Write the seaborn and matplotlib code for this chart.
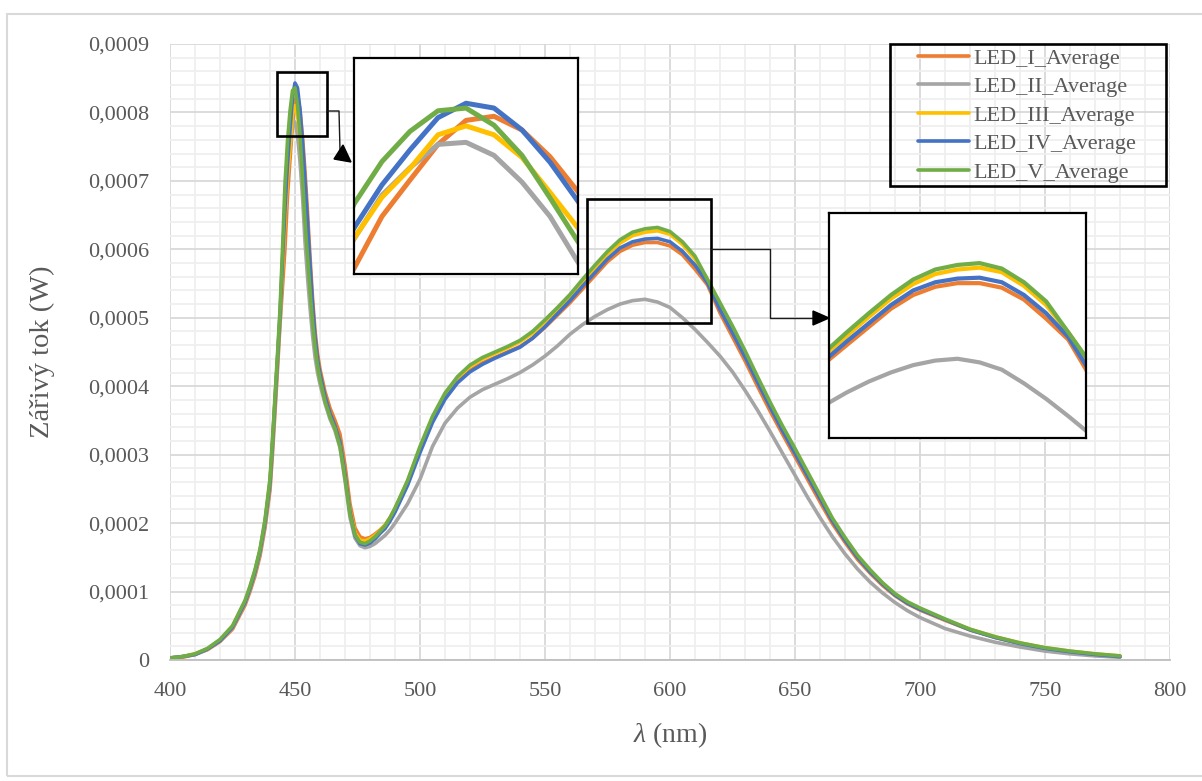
import numpy as np
import pandas as pd
import matplotlib
matplotlib.use("Agg")
import matplotlib.pyplot as plt
import seaborn as sns
from matplotlib.ticker import MultipleLocator, FuncFormatter
from matplotlib.patches import Rectangle, Polygon
from matplotlib.lines import Line2D

# ---------------- data (radiant flux in microwatts) ----------------
wavelength = [400, 405, 410, 415, 420, 425, 430, 432, 434, 436, 438,
              440, 441, 442, 443, 444, 445, 446, 447, 448, 449, 450, 451, 452, 453, 454,
              455, 456, 457, 458, 459, 460,
              462, 464, 466, 468, 470, 472, 474, 476, 478, 480, 482, 484, 486, 488, 490,
              495, 500, 505, 510, 515, 520, 525, 530, 535, 540, 545, 550, 555, 560, 565,
              570, 575, 580, 585, 590, 595, 600, 605, 610, 615, 620, 625, 630, 635, 640,
              645, 650, 655, 660, 665, 670, 675, 680, 685, 690, 695, 700,
              710, 720, 730, 740, 750, 760, 770, 780]

led_i = [2, 4, 8, 15, 27, 45, 80, 100, 123, 152, 193,
         248, 302, 362, 425, 490, 545, 602, 678, 731, 783, 818, 824, 804, 765, 714,
         655, 590, 530, 482, 448, 425,
         392, 368, 350, 330, 285, 228, 193, 180, 177, 179, 184, 190, 197, 207, 220,
         258, 306, 350, 384, 407, 423, 434, 442, 450, 458, 470, 486, 504, 522, 542,
         562, 582, 597, 606, 610, 610, 605, 592, 571, 548, 507, 472, 437, 400, 364,
         330, 297, 264, 231, 199, 172, 147, 127, 109, 94, 82, 73,
         58, 44, 33, 24, 17, 12, 8, 5]

led_ii = [3, 5, 8, 16, 28, 47, 83, 103, 127, 156, 198,
          255, 312, 372, 434, 496, 575, 645, 709, 749, 783, 786, 767, 728, 678, 611,
          560, 515, 475, 443, 420, 403,
          375, 352, 335, 310, 262, 208, 178, 167, 164, 166, 170, 176, 182, 190, 200,
          228, 264, 312, 346, 368, 384, 395, 403, 411, 420, 431, 444, 459, 476, 490,
          502, 512, 520, 525, 527, 523, 515, 500, 483, 464, 444, 421, 394, 365, 334,
          302, 270, 238, 208, 180, 155, 133, 114, 98, 84, 72, 62,
          46, 35, 26, 19, 13, 9, 6, 4]

led_iii = [3, 5, 9, 16, 29, 49, 85, 106, 130, 160, 202,
           261, 318, 380, 440, 500, 575, 646, 706, 748, 797, 810, 797, 764, 713, 661,
           605, 552, 505, 465, 436, 415,
           382, 358, 341, 316, 272, 218, 186, 175, 174, 177, 182, 189, 197, 208, 221,
           261, 310, 354, 388, 412, 429, 440, 448, 456, 465, 477, 494, 512, 531, 552,
           573, 593, 609, 620, 625, 627, 622, 607, 586, 556, 520, 485, 449, 411, 374,
           339, 306, 272, 239, 205, 177, 152, 131, 112, 96, 84, 75,
           59, 45, 34, 25, 18, 13, 9, 6]

led_iv = [3, 5, 8, 16, 28, 48, 84, 105, 129, 159, 201,
          259, 316, 378, 440, 503, 585, 661, 724, 775, 822, 843, 836, 804, 757, 700,
          640, 578, 520, 473, 440, 418,
          385, 360, 342, 318, 272, 216, 182, 170, 168, 171, 177, 185, 192, 203, 216,
          255, 303, 347, 381, 405, 421, 432, 441, 449, 457, 470, 487, 506, 525, 546,
          566, 586, 602, 611, 615, 616, 611, 597, 577, 551, 512, 478, 443, 406, 370,
          335, 302, 269, 236, 203, 175, 150, 129, 111, 95, 83, 74,
          59, 44, 33, 24, 17, 12, 8, 5]

led_v = [3, 5, 9, 17, 30, 50, 87, 108, 132, 162, 205,
         265, 322, 385, 447, 512, 600, 696, 758, 802, 832, 836, 811, 767, 705, 641,
         590, 540, 495, 458, 430, 410,
         378, 355, 338, 312, 266, 213, 183, 172, 170, 174, 180, 188, 196, 208, 222,
         262, 312, 356, 390, 414, 431, 442, 450, 458, 467, 480, 497, 515, 534, 556,
         577, 597, 614, 625, 630, 632, 626, 611, 590, 556, 522, 488, 452, 414, 377,
         342, 309, 275, 241, 207, 179, 153, 132, 113, 97, 85, 76,
         60, 45, 34, 25, 18, 13, 9, 6]

series_names = ["LED_I_Average", "LED_II_Average", "LED_III_Average",
                "LED_IV_Average", "LED_V_Average"]
series_values = [led_i, led_ii, led_iii, led_iv, led_v]
colors = ["#ED7D31", "#A5A5A5", "#FFC000", "#4472C4", "#70AD47"]

y_ticks = [0, 0.0001, 0.0002, 0.0003, 0.0004, 0.0005, 0.0006, 0.0007, 0.0008, 0.0009]
x_ticks = [400, 450, 500, 550, 600, 650, 700, 750, 800]

frames = []
for name, vals in zip(series_names, series_values):
    frames.append(pd.DataFrame({"wl": wavelength,
                                "flux": np.array(vals, dtype=float) * 1e-6,
                                "series": name}))
df = pd.concat(frames, ignore_index=True)

# ---------------- style ----------------
sns.set_theme(style="white")
plt.rcParams["font.family"] = ["Liberation Serif", "DejaVu Serif"]
plt.rcParams["mathtext.fontset"] = "custom"
plt.rcParams["mathtext.it"] = "Liberation Serif:italic"
plt.rcParams["mathtext.rm"] = "Liberation Serif"

W, H = 1202, 781


def fx(px):
    return px / W


def fy(py):
    return 1 - py / H


def fig_rect(x0, y0, x1, y1):
    return [fx(x0), fy(y1), fx(x1) - fx(x0), fy(y0) - fy(y1)]


fig = plt.figure(figsize=(W / 100, H / 100), dpi=100)
fig.patch.set_facecolor("white")

# outer chart-area border
fig.add_artist(Rectangle((fx(7), fy(776)), fx(1210) - fx(7), fy(14) - fy(776),
                         transform=fig.transFigure, fill=False,
                         edgecolor="#D9D9D9", lw=1.5))

ax = fig.add_axes(fig_rect(170, 44, 1170, 660))
for name, col in zip(series_names, colors):
    sns.lineplot(data=df[df["series"] == name], x="wl", y="flux", color=col,
                 lw=2.6, ax=ax, legend=False, estimator=None)

ax.set_xlim(400, 800)
ax.set_ylim(0, 0.0009)
ax.set_xticks(x_ticks)
ax.set_yticks(y_ticks)
ax.xaxis.set_minor_locator(MultipleLocator(10))
ax.yaxis.set_minor_locator(MultipleLocator(0.00002))
ax.yaxis.set_major_formatter(FuncFormatter(
    lambda v, _: "0" if abs(v) < 1e-12 else f"{v:.4f}".replace(".", ",")))
ax.set_axisbelow(True)
ax.grid(which="minor", color="#EFEFEF", lw=1.3)
ax.grid(which="major", color="#D9D9D9", lw=1.3)
for s in ["top", "right", "left"]:
    ax.spines[s].set_visible(False)
ax.spines["bottom"].set_color("#BFBFBF")
ax.spines["bottom"].set_linewidth(1.3)
ax.tick_params(which="both", length=0, labelsize=16, colors="#595959")
ax.tick_params(axis="y", pad=15)
ax.tick_params(axis="x", pad=16)
ax.set_xlabel(r"$\mathit{\lambda}$ (nm)", fontsize=20, color="#595959", labelpad=14)
ax.set_ylabel("Zářivý tok (W)", fontsize=20.5, color="#595959", labelpad=24)

# zoom boxes on main chart
for (x0, y0, x1, y1) in [(277, 72, 327, 136), (587, 199, 711, 323)]:
    fig.add_artist(Rectangle((fx(x0), fy(y1)), fx(x1) - fx(x0), fy(y0) - fy(y1),
                             transform=fig.transFigure, fill=False,
                             edgecolor="black", lw=1.9, zorder=10))

# connectors
conn_col = "#1a1a1a"
fig.add_artist(Line2D([fx(327), fx(339), fx(340)], [fy(111), fy(111), fy(150)],
                      transform=fig.transFigure, color=conn_col, lw=1.0, zorder=10))
fig.add_artist(Polygon([(fx(334), fy(159)), (fx(351), fy(162)), (fx(343), fy(145))],
                       closed=True, transform=fig.transFigure, color="black", zorder=10))
fig.add_artist(Line2D([fx(711), fx(770), fx(770), fx(814)],
                      [fy(249), fy(249), fy(318), fy(318)],
                      transform=fig.transFigure, color=conn_col, lw=1.0, zorder=10))
fig.add_artist(Polygon([(fx(813), fy(311)), (fx(829), fy(318)), (fx(813), fy(325))],
                       closed=True, transform=fig.transFigure, color="black", zorder=10))

# insets
def make_inset(rect, xlim, ylim, lw):
    a = fig.add_axes(fig_rect(*rect))
    a.set_facecolor("white")
    for name, col in zip(series_names, colors):
        sns.lineplot(data=df[df["series"] == name], x="wl", y="flux", color=col,
                     lw=lw, ax=a, legend=False, estimator=None)
    a.set_xlim(*xlim)
    a.set_ylim(*ylim)
    a.set_xticks([])
    a.set_yticks([])
    a.set_xlabel("")
    a.set_ylabel("")
    a.grid(False)
    for s in a.spines.values():
        s.set_visible(True)
        s.set_color("black")
        s.set_linewidth(1.6)
    return a

make_inset((354, 58, 578, 274), (446, 454), (0.000594, 0.000909), 3.6)
make_inset((829, 213, 1086, 438), (561, 619), (0.000440, 0.000687), 3.0)

# legend
handles = [Line2D([0], [0], color=c, lw=2.6) for c in colors]
leg = fig.legend(handles, series_names, loc="upper left",
                 bbox_to_anchor=(fx(918), fy(48)), frameon=False, fontsize=16,
                 handlelength=2.3, handletextpad=0.2, labelspacing=0.36,
                 borderpad=0, borderaxespad=0)
for t in leg.get_texts():
    t.set_color("#595959")
fig.add_artist(Rectangle((fx(890), fy(186)), fx(1166) - fx(890), fy(44) - fy(186),
                         transform=fig.transFigure, fill=False,
                         edgecolor="black", lw=1.9, zorder=10))

fig.savefig("out.png", dpi=100, facecolor="white")
